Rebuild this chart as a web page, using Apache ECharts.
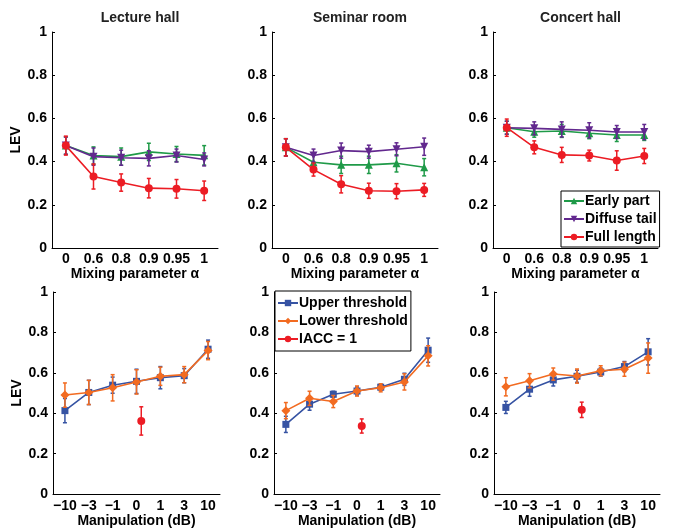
<!DOCTYPE html>
<html>
<head>
<meta charset="utf-8">
<script src="https://cdn.jsdelivr.net/npm/echarts@6/dist/echarts.min.js"></script>
<style>
  html, body {margin: 0; padding: 0; background: #fff;}
  #chart {width: 675px; height: 529px;}
</style>
</head>
<body>
<div id="chart"></div>
<script>
// x categories
const alphaLabels = ['0', '0.6', '0.8', '0.9', '0.95', '1']
const dbLabels = ['\u221210', '\u22123', '\u22121', '0', '1', '3', '10']
const roomNames = ['Lecture hall', 'Seminar room', 'Concert hall']

// top row: LEV vs mixing parameter (mean, +/- error)
const lectureEarly = [0.474, 0.428, 0.423, 0.445, 0.435, 0.429]
const lectureEarlyErr = [0.04, 0.04, 0.04, 0.04, 0.035, 0.045]
const lectureTail = [0.474, 0.423, 0.418, 0.415, 0.428, 0.41]
const lectureTailErr = [0.04, 0.04, 0.035, 0.035, 0.03, 0.03]
const lectureFull = [0.474, 0.331, 0.303, 0.277, 0.274, 0.265]
const lectureFullErr = [0.044, 0.058, 0.04, 0.045, 0.043, 0.045]

const seminarEarly = [0.466, 0.397, 0.385, 0.385, 0.392, 0.374]
const seminarEarlyErr = [0.04, 0.04, 0.04, 0.04, 0.04, 0.04]
const seminarTail = [0.466, 0.428, 0.451, 0.446, 0.457, 0.469]
const seminarTailErr = [0.04, 0.03, 0.035, 0.03, 0.03, 0.04]
const seminarFull = [0.466, 0.363, 0.295, 0.265, 0.263, 0.269]
const seminarFullErr = [0.04, 0.03, 0.04, 0.035, 0.035, 0.03]

const concertEarly = [0.557, 0.538, 0.542, 0.531, 0.523, 0.523]
const concertEarlyErr = [0.03, 0.025, 0.03, 0.025, 0.03, 0.025]
const concertTail = [0.557, 0.554, 0.549, 0.545, 0.537, 0.537]
const concertTailErr = [0.03, 0.03, 0.035, 0.035, 0.03, 0.035]
const concertFull = [0.557, 0.466, 0.431, 0.428, 0.405, 0.426]
const concertFullErr = [0.04, 0.03, 0.035, 0.025, 0.045, 0.035]

// bottom row: LEV vs manipulation
const lectureUpper = [0.413, 0.503, 0.539, 0.558, 0.576, 0.586, 0.717]
const lectureUpperErr = [0.06, 0.06, 0.04, 0.06, 0.055, 0.035, 0.045]
const lectureLower = [0.49, 0.503, 0.526, 0.555, 0.583, 0.591, 0.71]
const lectureLowerErr = [0.06, 0.06, 0.065, 0.06, 0.045, 0.04, 0.045]

const seminarUpper = [0.345, 0.445, 0.494, 0.51, 0.529, 0.568, 0.712]
const seminarUpperErr = [0.04, 0.03, 0.015, 0.02, 0.015, 0.03, 0.06]
const seminarLower = [0.413, 0.474, 0.458, 0.51, 0.526, 0.555, 0.684]
const seminarLowerErr = [0.04, 0.035, 0.03, 0.025, 0.02, 0.04, 0.05]

const concertUpper = [0.429, 0.519, 0.565, 0.583, 0.604, 0.631, 0.704]
const concertUpperErr = [0.03, 0.035, 0.03, 0.03, 0.02, 0.025, 0.065]
const concertLower = [0.531, 0.561, 0.594, 0.584, 0.61, 0.618, 0.673]
const concertLowerErr = [0.045, 0.035, 0.03, 0.035, 0.025, 0.035, 0.075]

// IACC = 1 single point per room, drawn just right of "0"
const iaccX = [3.2, 3.2, 3.2]
const iaccLev = [0.362, 0.337, 0.417]
const iaccErr = [0.07, 0.035, 0.038]

const GREEN = '#1f9a48', PURPLE = '#62288e', RED = '#ec1c24', BLUE = '#3653a3', ORANGE = '#f26b21'
const FONT = 'Liberation Sans, Arial, sans-serif'
const txt = {fontFamily: FONT, fontWeight: 'bold', fontSize: 14, color: '#000'}

const topGrids = [
    {left: 52, top: 32, width: 166, height: 216},
    {left: 272, top: 32, width: 166, height: 216},
    {left: 493, top: 32, width: 165, height: 216}
]
const bottomGrids = [
    {left: 53, top: 292, width: 167, height: 206},
    {left: 274, top: 292, width: 166, height: 206},
    {left: 494, top: 292, width: 166, height: 206}
]

const grid = [...topGrids, ...bottomGrids]
const xAxis = []
const yAxis = []
const series = []
const title = []

function catAxis(gridIndex, labels, name, margin) {
    return {
        type: 'category', gridIndex, data: labels, boundaryGap: true,
        name, nameLocation: 'middle', nameGap: 18, nameTextStyle: txt,
        axisLine: {lineStyle: {color: '#000', width: 1}},
        axisTick: {inside: true, length: 3, alignWithLabel: true, lineStyle: {color: '#000'}},
        axisLabel: {...txt, margin, interval: 0},
        splitLine: {show: false}
    }
}

function levAxis(gridIndex, showName) {
    return {
        type: 'value', gridIndex, min: 0, max: 1, interval: 0.2,
        name: showName ? 'LEV' : '', nameLocation: 'middle', nameGap: 27, nameTextStyle: txt,
        axisLine: {show: true, onZero: false, lineStyle: {color: '#000', width: 1}},
        axisTick: {show: true, inside: true, length: 3, lineStyle: {color: '#000'}},
        axisLabel: {...txt, margin: 5},
        splitLine: {show: false}
    }
}

function errorBars(xi, yi, xs, means, errs, color, z) {
    return {
        type: 'custom', xAxisIndex: xi, yAxisIndex: yi, z, silent: true,
        data: means.map((m, i) => [xs[i], m - errs[i], m + errs[i]]),
        renderItem: (params, api) => {
            const lo = api.coord([api.value(0), api.value(1)])
            const hi = api.coord([api.value(0), api.value(2)])
            const st = {stroke: color, lineWidth: 1.5}
            const w = 2
            return {
                type: 'group', children: [
                    {type: 'line', shape: {x1: lo[0], y1: lo[1], x2: hi[0], y2: hi[1]}, style: st},
                    {type: 'line', shape: {x1: lo[0] - w, y1: lo[1], x2: lo[0] + w, y2: lo[1]}, style: st},
                    {type: 'line', shape: {x1: hi[0] - w, y1: hi[1], x2: hi[0] + w, y2: hi[1]}, style: st}
                ]
            }
        }
    }
}

function lineSeries(name, xi, yi, means, errs, color, symbol, rotate, z, size) {
    const idx = means.map((_, i) => i)
    series.push(errorBars(xi, yi, idx, means, errs, color, z))
    series.push({
        name, type: 'line', xAxisIndex: xi, yAxisIndex: yi, data: means, z: z + 1,
        symbol, symbolSize: size || 8, symbolRotate: rotate || 0, showSymbol: true,
        itemStyle: {color}, lineStyle: {color, width: 1.6}, animation: false
    })
}

const topData = [
    [lectureEarly, lectureEarlyErr, lectureTail, lectureTailErr, lectureFull, lectureFullErr],
    [seminarEarly, seminarEarlyErr, seminarTail, seminarTailErr, seminarFull, seminarFullErr],
    [concertEarly, concertEarlyErr, concertTail, concertTailErr, concertFull, concertFullErr]
]
const bottomData = [
    [lectureUpper, lectureUpperErr, lectureLower, lectureLowerErr],
    [seminarUpper, seminarUpperErr, seminarLower, seminarLowerErr],
    [concertUpper, concertUpperErr, concertLower, concertLowerErr]
]

topData.forEach((d, i) => {
    xAxis.push(catAxis(i, alphaLabels, 'Mixing parameter \u03b1', 4))
    yAxis.push(levAxis(i, i === 0))
    title.push({
        text: roomNames[i], left: topGrids[i].left + topGrids[i].width / 2, top: 6, textAlign: 'center',
        textStyle: {...txt, color: '#222'}
    })
    lineSeries('Early part', i, i, d[0], d[1], GREEN, 'triangle', 0, 2, 8)
    lineSeries('Diffuse tail', i, i, d[2], d[3], PURPLE, 'triangle', 180, 4, 8)
    lineSeries('Full length', i, i, d[4], d[5], RED, 'circle', 0, 6, 8)
})

bottomData.forEach((d, i) => {
    const g = i + 3
    xAxis.push(catAxis(g, dbLabels, 'Manipulation (dB)', 5))
    yAxis.push(levAxis(g, i === 0))
    lineSeries('Upper threshold', g, g, d[0], d[1], BLUE, 'rect', 0, 2, 7)
    lineSeries('Lower threshold', g, g, d[2], d[3], ORANGE, 'diamond', 0, 4, 9)
})

// hidden value x axes for the IACC points (sit between categories)
bottomData.forEach((d, i) => {
    const g = i + 3
    const xi = xAxis.length
    xAxis.push({type: 'value', gridIndex: g, min: -0.5, max: 6.5, show: false})
    series.push(errorBars(xi, g, [iaccX[i]], [iaccLev[i]], [iaccErr[i]], RED, 6))
    series.push({
        name: 'IACC = 1', type: 'line', xAxisIndex: xi, yAxisIndex: g, z: 7,
        data: [[iaccX[i], iaccLev[i]]], symbol: 'circle', symbolSize: 8,
        itemStyle: {color: RED}, lineStyle: {color: RED, width: 1.6}, animation: false
    })
})

const legendBase = {
    orient: 'vertical', backgroundColor: '#fff', borderColor: '#000', borderWidth: 1,
    itemGap: 4, itemWidth: 20, itemHeight: 8, padding: [3, 3, 3, 2],
    textStyle: {...txt, padding: [0, 0, 0, -4]}, selectedMode: false
}

const chart = echarts.init(document.getElementById('chart'))
chart.setOption({
    backgroundColor: '#fff',
    animation: false,
    title,
    grid,
    xAxis,
    yAxis,
    legend: [
        {...legendBase, data: ['Early part', 'Diffuse tail', 'Full length'], left: 561, top: 191, z: 20},
        {...legendBase, data: ['Upper threshold', 'Lower threshold', 'IACC = 1'], left: 275, top: 291, padding: [5, 3, 5, 2], z: 20}
    ],
    series
})
</script>
</body>
</html>
